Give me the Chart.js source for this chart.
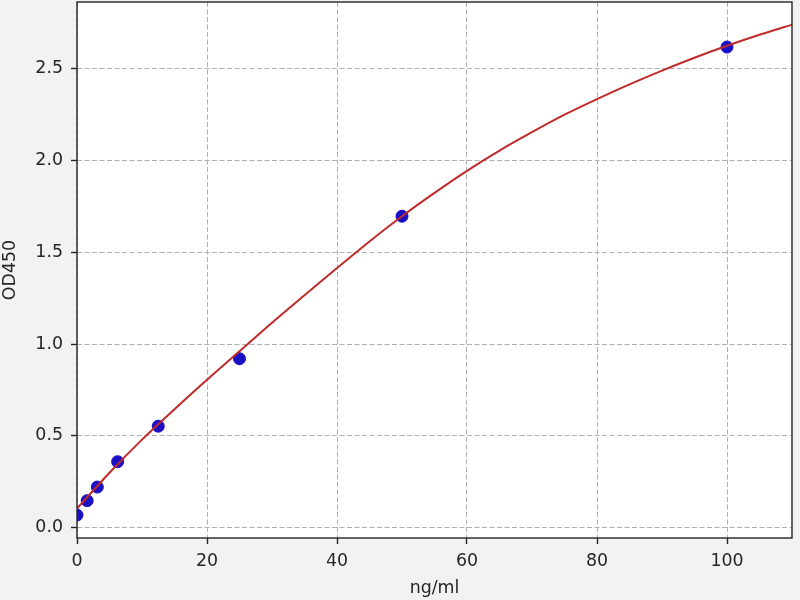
<!DOCTYPE html>
<html>
<head>
<meta charset="utf-8">
<script src="https://cdn.jsdelivr.net/npm/chart.js@4"></script>
<style>
  html, body { margin:0; padding:0; background:#f2f2f2; }
  #wrap { width:800px; height:600px; }
</style>
</head>
<body>
<div id="wrap"><canvas id="c" width="800" height="600"></canvas></div>
<script>
/* =========================
   DATA
========================= */
const concX = [0, 1.5625, 3.125, 6.25, 12.5, 25, 50, 100]
const odY   = [0.07, 0.148, 0.222, 0.36, 0.553, 0.92, 1.695, 2.615]

// fitted curve
const curveX = [0, 5, 10, 15, 20, 25, 30, 35, 40, 45, 50, 55, 60, 65, 70, 75, 80, 85, 90, 95, 100, 105, 110]
const curveY = [0.105, 0.30, 0.48, 0.645, 0.805, 0.96, 1.115, 1.265, 1.413, 1.558, 1.695, 1.822, 1.942, 2.052, 2.152, 2.247, 2.332, 2.412, 2.487, 2.557, 2.622, 2.682, 2.737]

const xTicks = [0, 20, 40, 60, 80, 100]
const yTicks = [0.0, 0.5, 1.0, 1.5, 2.0, 2.5]

const FONT = "'DejaVu Sans', sans-serif"
const FSIZE = 17.4

/* =========================
   PLUGIN: backgrounds + frame
========================= */
const framePlugin = {
  id: "frame",
  beforeDraw(chart){
    const {ctx, chartArea:a} = chart
    ctx.save()
    ctx.fillStyle = "#f2f2f2"
    ctx.fillRect(0, 0, chart.width, chart.height)
    ctx.fillStyle = "#ffffff"
    ctx.fillRect(a.left, a.top, a.right - a.left, a.bottom - a.top)
    ctx.restore()
  },
  afterDraw(chart){
    const {ctx, chartArea:a} = chart
    ctx.save()
    ctx.strokeStyle = "#262626"
    ctx.lineWidth = 1.4
    ctx.strokeRect(a.left, a.top, a.right - a.left, a.bottom - a.top)
    ctx.restore()
  }
}

const gridOpts = {
  color: "#b0b0b0",
  lineWidth: 1,
  drawTicks: true,
  tickLength: 6,
  tickColor: "#262626",
  tickWidth: 1.4,
  tickBorderDash: []
}

new Chart(document.getElementById("c"), {
  type: "scatter",
  data: {
    datasets: [
      {
        type: "line",
        data: curveX.map((x, i) => ({x: x, y: curveY[i]})),
        borderColor: "#c02a2a",
        borderWidth: 2,
        pointRadius: 0,
        fill: false,
        cubicInterpolationMode: "monotone"
      },
      {
        data: concX.map((x, i) => ({x: x, y: odY[i]})),
        backgroundColor: "#1a0fc4",
        borderColor: "#1a0fc4",
        pointRadius: 6,
        pointHoverRadius: 6
      }
    ]
  },
  options: {
    responsive: false,
    animation: false,
    events: [],
    layout: { autoPadding: false, padding: { top: 2, right: 8, left: 0, bottom: 0 } },
    plugins: {
      legend: { display: false },
      tooltip: { enabled: false }
    },
    scales: {
      x: {
        type: "linear",
        min: 0,
        max: 110,
        afterBuildTicks(s){ s.ticks = xTicks.map(v => ({value: v})) },
        afterFit(s){
          s.height = 62
          s.paddingLeft = 0
          s.paddingRight = 0
        },
        grid: gridOpts,
        border: { display: false, dash: [5, 2.5] },
        ticks: {
          color: "#262626",
          padding: 7,
          maxRotation: 0,
          font: { family: FONT, size: FSIZE },
          callback: v => String(v)
        },
        title: {
          display: true,
          text: "ng/ml",
          color: "#262626",
          font: { family: FONT, size: FSIZE },
          padding: { top: 0, bottom: 1 }
        }
      },
      y: {
        type: "linear",
        min: -0.055,
        max: 2.86,
        afterBuildTicks(s){ s.ticks = yTicks.map(v => ({value: v})) },
        afterFit(s){
          s.width = 77
          s.paddingTop = 0
          s.paddingBottom = 0
        },
        grid: gridOpts,
        border: { display: false, dash: [5, 2.5] },
        ticks: {
          color: "#262626",
          padding: 8,
          font: { family: FONT, size: FSIZE },
          callback: v => Number(v).toFixed(1)
        },
        title: {
          display: true,
          text: "OD450",
          color: "#262626",
          font: { family: FONT, size: FSIZE },
          padding: { top: 0, bottom: 2 }
        }
      }
    }
  },
  plugins: [framePlugin]
})
</script>
</body>
</html>
